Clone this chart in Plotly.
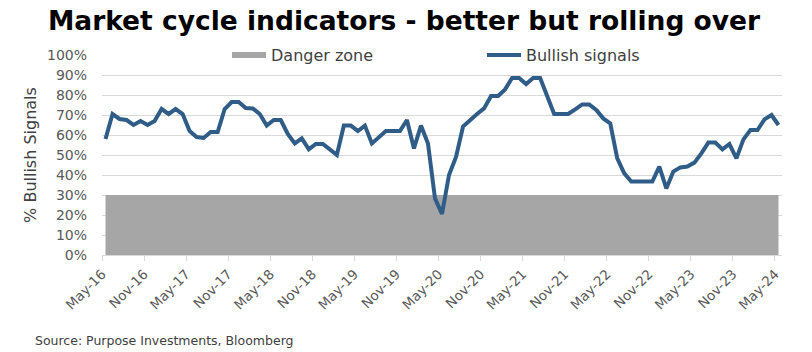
import plotly.graph_objects as go

labels = ["May-16", "Nov-16", "May-17", "Nov-17", "May-18", "Nov-18", "May-19", "Nov-19",
          "May-20", "Nov-20", "May-21", "Nov-21", "May-22", "Nov-22", "May-23", "Nov-23", "May-24"]

bullish = [58, 70.5, 68, 67.5, 65, 67, 65, 67, 73, 70.5, 73, 70.5, 62, 59, 58.5, 61.5, 61.5, 73, 76.5, 76.5,
           73.5, 73.3, 70.5, 64.7, 67.5, 67.5, 60.5, 55.8, 58.3, 52.8, 55.5, 55.5, 52.8, 50, 64.7, 64.7,
           62, 64.7, 55.8, 59, 62, 62, 62, 67.5, 53.3, 64.7, 55.8, 28.3, 20.5, 40, 49, 64.2, 67.5, 70.5,
           73.3, 79.5, 79.5, 82.8, 88.5, 88.5, 85.5, 88.5, 88.5, 80, 70.5, 70.5, 70.5, 72.8, 75.3, 75.3,
           72.5, 68.3, 65.8, 48.3, 40.8, 36.7, 36.7, 36.7, 36.7, 44.2, 33.3, 41.7, 43.8, 44.2, 46.2, 50.8,
           56.2, 56.2, 52.8, 55.5, 48.3, 57.8, 62.5, 62.5, 67.8, 70, 65]
danger_level = 30

n = len(bullish)
idx = list(range(n))
danger = [danger_level] * n

FONT = "DejaVu Sans"

fig = go.Figure()
fig.add_trace(go.Scatter(x=idx, y=danger, name="Danger zone", mode="none", fill="tozeroy",
                         fillcolor="#a6a6a6", showlegend=True))
fig.add_trace(go.Scatter(x=idx, y=bullish, name="Bullish signals", mode="lines",
                         line=dict(color="#2f5d87", width=4)))

fig.update_layout(
    width=812, height=352,
    margin=dict(l=102, r=30, t=55, b=97),
    paper_bgcolor="white", plot_bgcolor="white",
    font=dict(family=FONT, color="#595959"),
    title=dict(text="<b>Market cycle indicators - better but rolling over</b>",
               x=(45 + 763) / 2 / 812, xanchor="center", y=0.94, yanchor="middle",
               font=dict(family=FONT, size=26.5, color="#000000")),
    legend=dict(orientation="h", x=(482 - 102) / 680, xanchor="center", y=1.0, yanchor="middle",
                bgcolor="white", font=dict(size=16, color="#404040"),
                itemwidth=34, tracegroupgap=0, entrywidth=206),
    showlegend=True,
)
fig.update_xaxes(range=[-0.5, n - 0.5],
                 tickmode="array",
                 tickvals=[-0.5 + 6 * i for i in range(len(labels))],
                 ticktext=labels,
                 tickangle=-45, tickfont=dict(size=13.5, color="#595959"),
                 ticks="outside", ticklen=5, tickcolor="#d9d9d9",
                 showgrid=False, showline=True, linecolor="#d9d9d9", zeroline=False)
fig.update_yaxes(range=[0, 100], dtick=10, ticksuffix="%",
                 tickfont=dict(size=14, color="#595959"),
                 showgrid=True, gridcolor="#d9d9d9", gridwidth=1, zeroline=False,
                 ticklabelstandoff=14,
                 title=dict(text="% Bullish Signals", font=dict(size=16, color="#404040"), standoff=6))
fig.add_annotation(text="Source: Purpose Investments, Bloomberg", xref="paper", yref="paper",
                   x=(33 - 102) / 680, y=(255 - 340) / 200, xanchor="left", yanchor="middle",
                   showarrow=False, font=dict(size=12.5, color="#404040"))

fig.write_html("out.html")
